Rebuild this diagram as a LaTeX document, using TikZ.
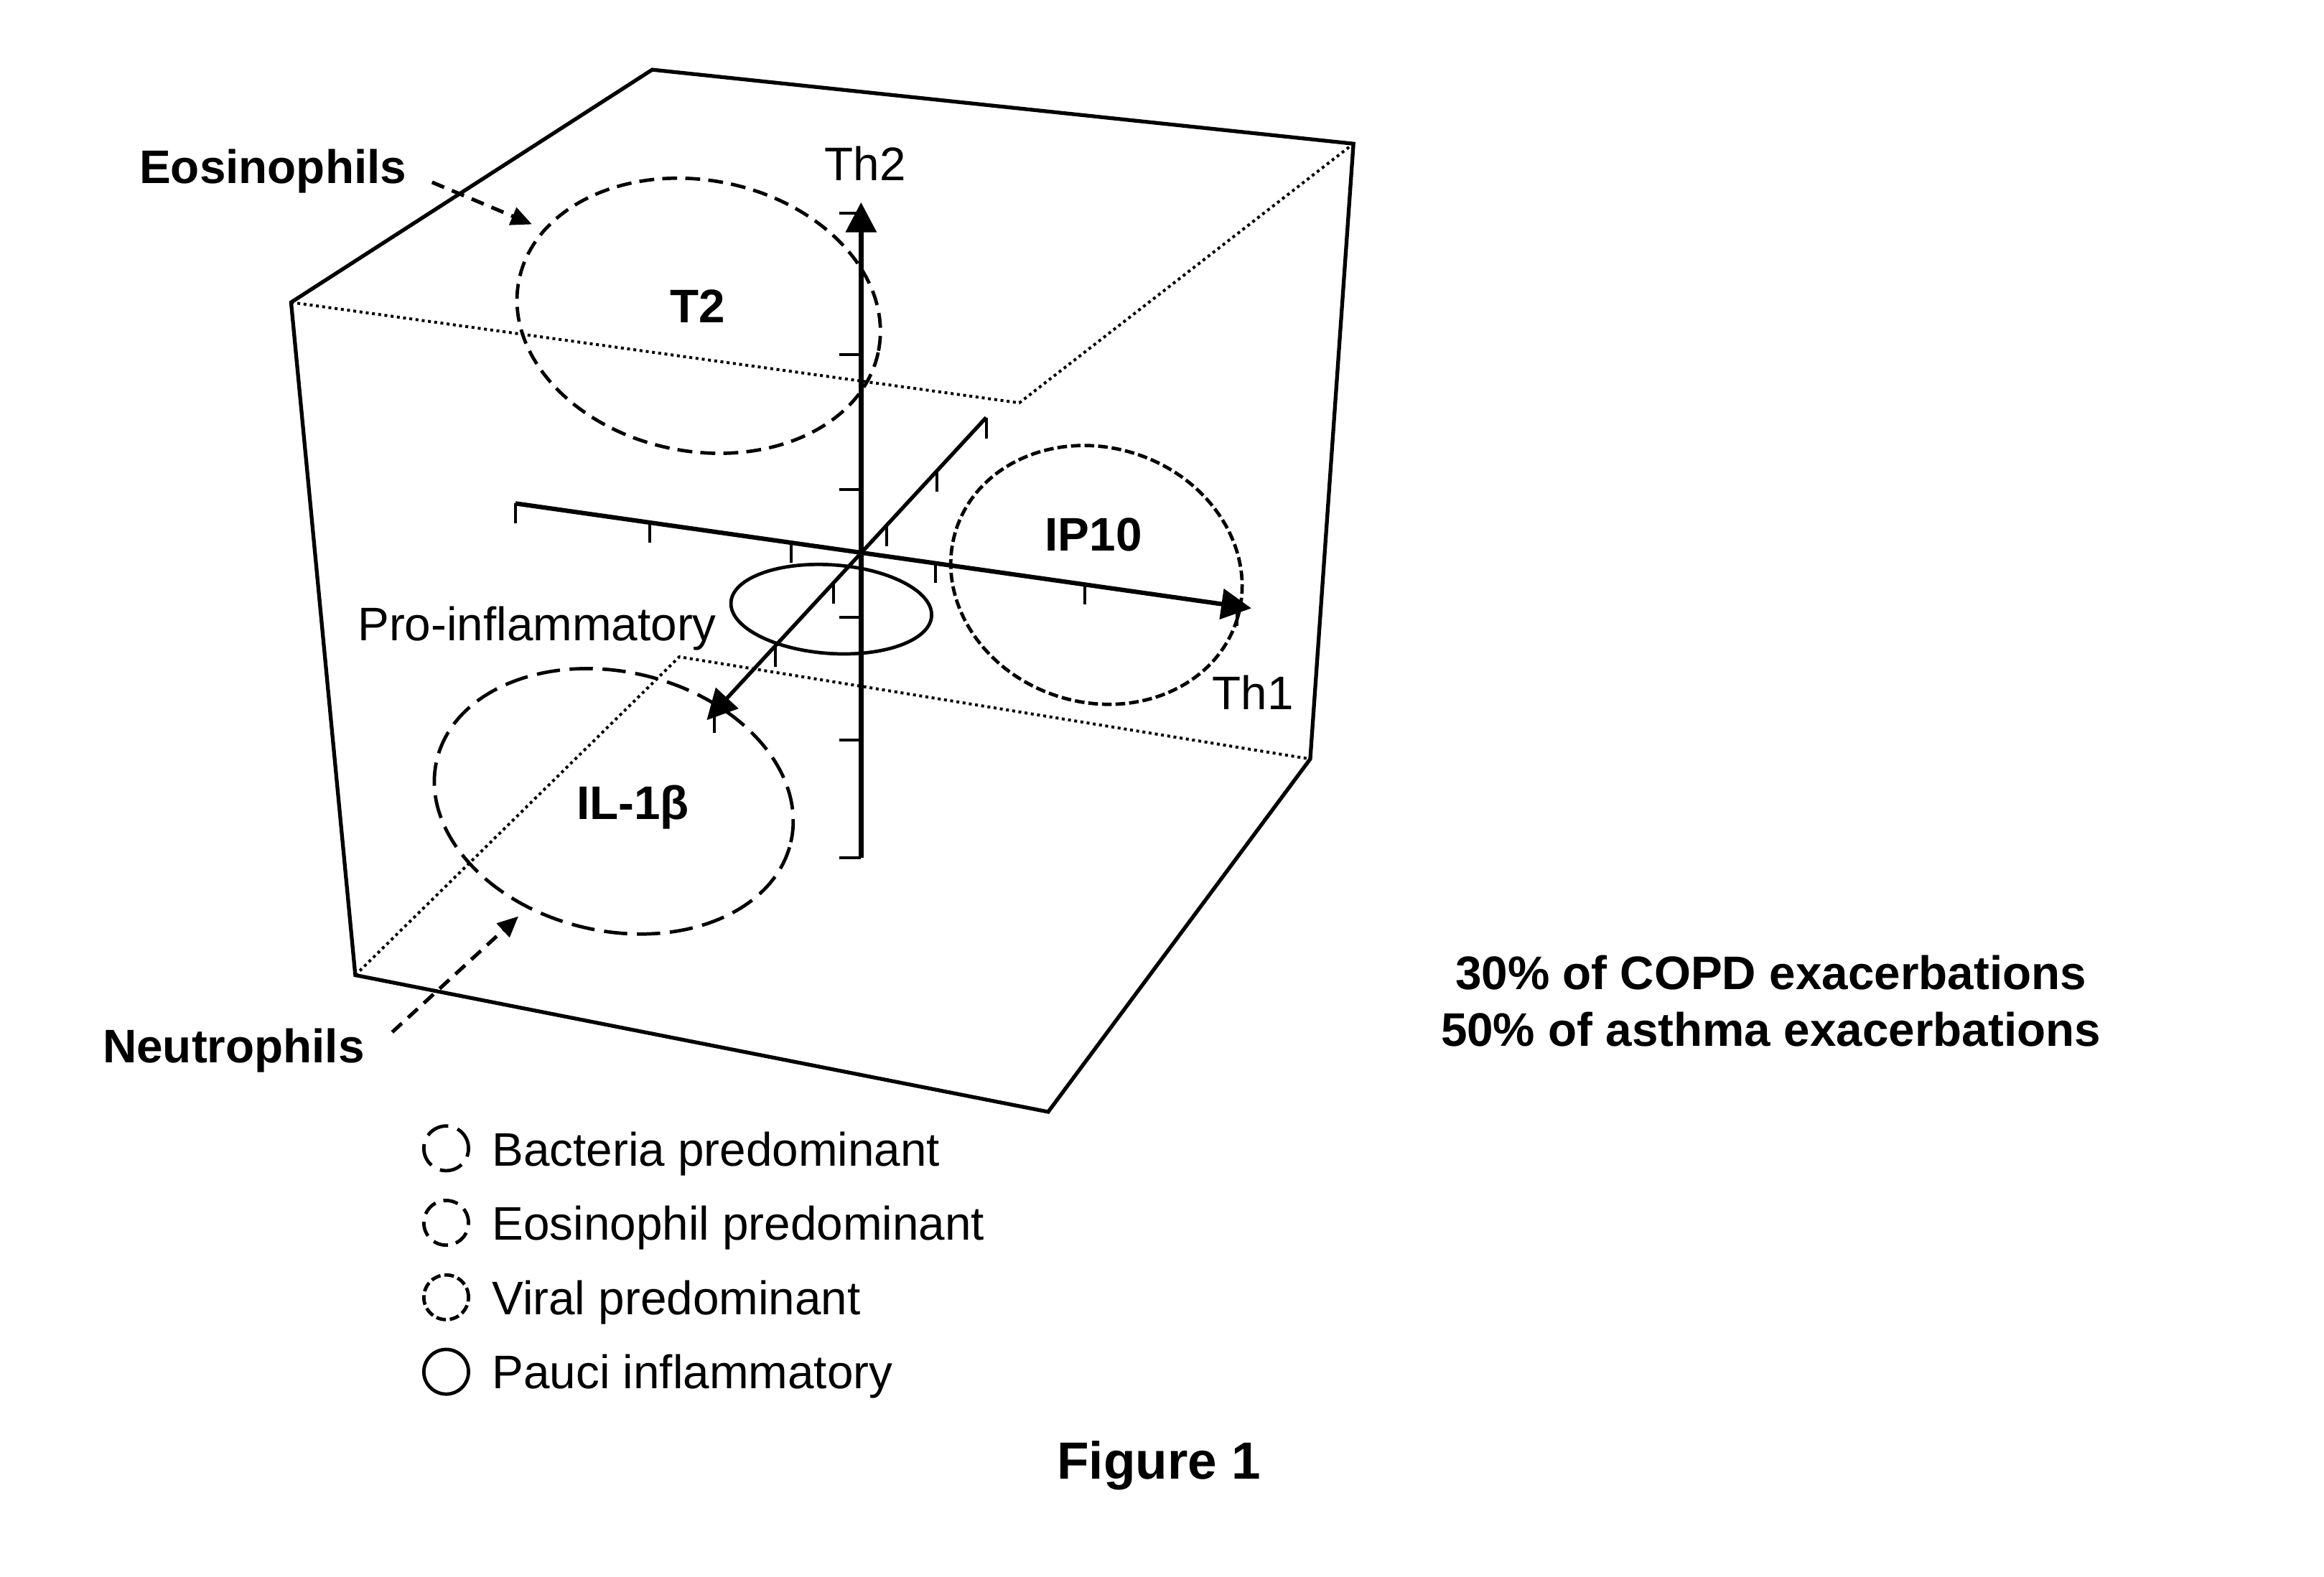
\documentclass[tikz,border=0pt]{standalone}
\usepackage{fontspec}
\setmainfont{Liberation Sans}
\usetikzlibrary{arrows.meta,shapes.geometric}

\begin{document}
\begin{tikzpicture}[x=0.02cm,y=-0.02cm,
    cube/.style={line width=1.45pt,line join=miter},
    hidden/.style={line width=1.1pt,dash pattern=on 1.1pt off 1.3pt},
    axis/.style={line width=1.7pt},
    tick/.style={line width=1.15pt},
    head/.style={-{Triangle[length=11.5pt,width=11.5pt]}},
    region/.style={ellipse,draw,line width=1.3pt,inner sep=0pt},
    bact/.style={dash pattern=on 8.9pt off 3.7pt},
    eosi/.style={dash pattern=on 5.7pt off 3.1pt},
    viral/.style={dash pattern=on 3.7pt off 1.5pt},
    key/.style={circle,draw,line width=1.3pt,inner sep=0pt,minimum size=0.6cm},
    lbl/.style={inner sep=0pt,font=\fontsize{18}{22}\selectfont},
    bold/.style={lbl,font=\fontsize{18}{22}\selectfont\bfseries},
    pointer/.style={line width=1.4pt,dash pattern=on 5pt off 3.2pt,
        -{Triangle[length=8pt,width=7pt]}}]
\useasboundingbox (0,0) rectangle (1560,1058.8);
% cube
\coordinate (A) at (195.4,203);
\coordinate (B) at (437.8,46.8);
\coordinate (C) at (908.5,96.5);
\coordinate (D) at (879.5,509.6);
\coordinate (E) at (703.6,746.5);
\coordinate (F) at (238.5,654.7);
\coordinate (H1) at (684.2,270.5);
\coordinate (H2) at (456,441);
\draw[cube] (A) -- (B) -- (C) -- (D) -- (E) -- (F) -- cycle;
\draw[hidden] (A) -- (H1) -- (C);
\draw[hidden] (F) -- (H2) -- (D);
% axes
\coordinate (th2) at (578,135.8);
\coordinate (ybot) at (578,576);
\coordinate (xleft) at (346,338);
\coordinate (th1) at (840,408.4);
\coordinate (zback) at (662,280.3);
\coordinate (zfront) at (474.4,483.5);
\draw[axis,line width=1.9pt,head] (ybot) -- (th2);
\draw[axis,head] (xleft) -- (th1);
\draw[axis,line width=1.45pt,head] (zback) -- (zfront);
\foreach \y in {143,238,328.5,414.5,497,576}
    \draw[tick] (563.5,\y) -- (578,\y);
\foreach \x/\y in {346/338,436.3/350.8,531/364.2,628/378,728/392.1,830.2/406.6}
    \draw[tick] (\x,\y) -- ++(0,13.5);
\foreach \x/\y in {662/280.3,629.1/315.9,595.1/352.8,559.6/391.2,520.5/433.6,479.5/478}
    \draw[tick] (\x,\y) -- ++(0,14);
% regions
\node[region,eosi,minimum width=4.92cm,minimum height=3.64cm,rotate=-11] (t2) at (469,212) {};
\node[region,bact,minimum width=4.88cm,minimum height=3.48cm,rotate=-13] (il1b) at (412,538) {};
\node[region,viral,minimum width=3.96cm,minimum height=3.42cm,rotate=-18] (ip10) at (736,386) {};
\node[region,minimum width=2.70cm,minimum height=1.19cm,rotate=-4] (pro) at (558,409) {};
\node[bold,anchor=base] (t2lbl) at (468.5,216.7) {T2};
\node[bold,anchor=base] (ip10lbl) at (734,370) {IP10};
\node[bold,anchor=base] (il1blbl) at (424.9,550.3) {IL-1β};
\node[lbl,anchor=base] (prolbl) at (360.5,430.3) {Pro-inflammatory};
\node[lbl,anchor=base] (th2lbl) at (580.7,121.1) {Th2};
\node[lbl,anchor=base] (th1lbl) at (841,476.5) {Th1};
% cells
\node[bold,anchor=base] (eos) at (183.2,123) {Eosinophils};
\node[bold,anchor=base] (neu) at (156.8,713.3) {Neutrophils};
\coordinate (eostip) at (357.1,150.6);
\coordinate (neutip) at (348,615.2);
\draw[pointer] ([xshift=9.6pt,yshift=-4.3pt]eos.east) -- (eostip);
\draw[pointer] ([xshift=10.4pt,yshift=6.9pt]neu.east) -- (neutip);
% legend
\node[key,bact] (kb) at (299.5,771) {};
\node[key,eosi] (ke) at (299.5,821) {};
\node[key,viral] (kv) at (299.5,871) {};
\node[key] (kp) at (299.5,921) {};
\node[lbl,anchor=base west] (kbt) at (330,782.7) {Bacteria predominant};
\node[lbl,anchor=base west] (ket) at (330,832.5) {Eosinophil predominant};
\node[lbl,anchor=base west] (kvt) at (330,882.5) {Viral predominant};
\node[lbl,anchor=base west] (kpt) at (330,932.5) {Pauci inflammatory};
% notes
\node[bold,anchor=base] (copd) at (1188.7,664.2) {30\% of COPD exacerbations};
\node[bold,anchor=base] (asthma) at (1188.7,702.4) {50\% of asthma exacerbations};
\node[lbl,anchor=base,font=\fontsize{20}{24}\selectfont\bfseries] (fig) at (777.9,993) {Figure 1};
\end{tikzpicture}
\end{document}
